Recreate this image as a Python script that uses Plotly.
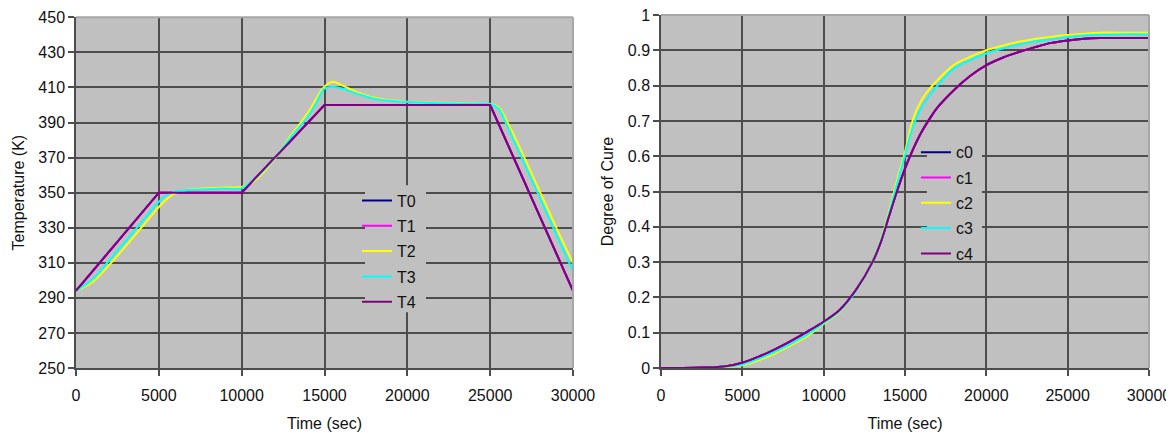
import plotly.graph_objects as go

# ---------------- data: temperature chart ----------------
t_wall = [0, 5000, 10000, 15000, 25000, 30000]
T0 = [294, 350, 350, 400, 400, 294]
T1 = [294, 350, 350, 400, 400, 294]
T4 = [294, 350, 350, 400, 400, 294]

t_in = [0, 1000, 2000, 3000, 4000, 5000, 5500, 6000, 6500, 7000, 8000, 9000,
        10000, 10500, 11000, 12000, 13000, 14000, 14500, 15000, 15500, 16000,
        17000, 18000, 19000, 20000, 22000, 24000, 25000, 25500, 26000, 26500,
        27000, 28000, 29000, 30000]
T2 = [294, 299.1, 308.7, 319.5, 330.7, 341.8, 346.5, 349.8, 351.2, 352.0, 352.5, 353.0,
      353.2, 355.5, 358.5, 369.5, 383.0, 395.5, 403.5, 410.5, 413.2, 411.5,
      407.2, 404.1, 402.7, 401.9, 401.2, 400.7, 400.5, 398.8, 391.0, 381.3,
      371.3, 350.5, 329.8, 309.7]
T3 = [294, 300.6, 311.3, 322.4, 333.6, 344.8, 348.8, 350.6, 351.2, 351.6, 352.0, 352.3,
      352.5, 355.8, 359.5, 369.8, 382.0, 393.5, 401.0, 409.3, 410.3, 409.5,
      406.3, 403.6, 402.4, 401.7, 401.0, 400.6, 400.4, 398.0, 388.5, 378.3,
      368.0, 347.0, 326.0, 305.3]

# ---------------- data: degree of cure chart ----------------
t_c = [0, 1000, 2000, 3000, 4000, 5000, 6000, 7000, 8000, 9000, 10000, 11000,
       12000, 13000, 13500, 14000, 14500, 15000, 15500, 16000, 16500, 17000,
       18000, 19000, 20000, 21000, 22000, 23000, 24000, 25000, 26000, 27000,
       28000, 30000]
c4 = [0, 0, 0.0005, 0.002, 0.005, 0.015, 0.032, 0.053, 0.077, 0.103, 0.131, 0.165,
      0.222, 0.300, 0.355, 0.428, 0.500, 0.565, 0.620, 0.667, 0.705, 0.738,
      0.787, 0.827, 0.858, 0.879, 0.895, 0.909, 0.921, 0.928, 0.933, 0.935,
      0.935, 0.935]
c0 = list(c4)
c1 = list(c4)
c2 = [0, 0, 0, 0.001, 0.003, 0.008, 0.022, 0.041, 0.065, 0.090, 0.125, 0.160,
      0.220, 0.300, 0.360, 0.440, 0.530, 0.612, 0.705, 0.757, 0.790, 0.815,
      0.858, 0.881, 0.900, 0.913, 0.924, 0.932, 0.938, 0.943, 0.947, 0.950,
      0.950, 0.950]
c3 = [0, 0, 0, 0.001, 0.004, 0.010, 0.026, 0.046, 0.069, 0.095, 0.127, 0.162,
      0.220, 0.300, 0.358, 0.435, 0.520, 0.603, 0.685, 0.737, 0.772, 0.800,
      0.848, 0.872, 0.891, 0.905, 0.916, 0.925, 0.931, 0.938, 0.942, 0.944,
      0.945, 0.945]

colors = ["#000080", "#FF00FF", "#FFFF00", "#00FFFF", "#800080"]
FONT = "Liberation Sans, Arial, sans-serif"
PLOT_BG = "#c0c0c0"

fig = go.Figure()

temp_series = [("T0", t_wall, T0, "linear"), ("T1", t_wall, T1, "linear"),
               ("T2", t_in, T2, "spline"), ("T3", t_in, T3, "spline"),
               ("T4", t_wall, T4, "linear")]
for i, (name, tx, ty, shape) in enumerate(temp_series):
    fig.add_trace(go.Scatter(x=tx, y=ty, name=name, mode="lines",
                             line=dict(color=colors[i], width=2, shape=shape),
                             xaxis="x", yaxis="y", legend="legend",
                             legendgroup=name))

cure_series = [("c0", c0), ("c1", c1), ("c2", c2), ("c3", c3), ("c4", c4)]
for i, (name, cy) in enumerate(cure_series):
    fig.add_trace(go.Scatter(x=t_c, y=cy, name=name, mode="lines",
                             line=dict(color=colors[i], width=2, shape="spline"),
                             xaxis="x2", yaxis="y2", legend="legend2",
                             legendgroup=name))

axis_common = dict(showgrid=True, gridcolor="#4d4d4d", gridwidth=1.5,
                   showline=True, linecolor="#4d4d4d", linewidth=1.5,
                   ticks="outside", ticklen=6, tickcolor="#4d4d4d", tickwidth=1.5,
                   zeroline=False, automargin=False, ticklabeloverflow="allow",
                   tickfont=dict(family=FONT, size=16, color="#111"),
                   title_font=dict(family=FONT, size=16, color="#111"))
xcommon = dict(range=[0, 30000], dtick=5000, tick0=0, tickformat="d",
               ticklabelstandoff=6)

legend_common = dict(xanchor="left", yanchor="top", bgcolor="rgba(0,0,0,0)",
                     borderwidth=0, tracegroupgap=1.5, traceorder="grouped",
                     font=dict(family=FONT, size=16, color="#111"))

# the page body adds an 8px offset, so the figure is 8px smaller and margins shifted
fig.update_layout(
    width=1166, height=425,
    margin=dict(l=68, r=25, t=7, b=65),
    paper_bgcolor="white", plot_bgcolor=PLOT_BG,
    font=dict(family=FONT, size=16, color="#111"),
    xaxis=dict(domain=[0, 0.4632], anchor="y",
               title=dict(text="Time (sec)", standoff=15), **xcommon, **axis_common),
    yaxis=dict(domain=[0, 0.9935], range=[250, 450], dtick=20, tick0=250,
               anchor="x", title=dict(text="Temperature (K)", standoff=10), **axis_common),
    xaxis2=dict(domain=[0.5452, 1], anchor="y2",
                title=dict(text="Time (sec)", standoff=15), **xcommon, **axis_common),
    yaxis2=dict(domain=[0, 1], range=[0, 1], dtick=0.1, tick0=0,
                anchor="x2", title=dict(text="Degree of Cure", standoff=10), **axis_common),
    legend=dict(x=0.2619, y=0.5224, **legend_common),
    legend2=dict(x=0.7828, y=0.6592, **legend_common),
    showlegend=True,
)

# legend background boxes (hide gridlines; placed where no curve passes)
fig.add_shape(type="rect", xref="x domain", yref="y domain",
              x0=0.5815, x1=0.7042, y0=0.159, y1=0.5214,
              fillcolor=PLOT_BG, line=dict(width=0), layer="above")
fig.add_shape(type="rect", xref="x2 domain", yref="y2 domain",
              x0=0.545, x1=0.6578, y0=0.306, y1=0.654,
              fillcolor=PLOT_BG, line=dict(width=0), layer="above")

# light top / right plot-area border
for xr, yr in (("x domain", "y domain"), ("x2 domain", "y2 domain")):
    fig.add_shape(type="line", xref=xr, yref=yr, x0=0, x1=1, y0=1, y1=1,
                  line=dict(color="#a6a6a6", width=2), layer="above")
    fig.add_shape(type="line", xref=xr, yref=yr, x0=1, x1=1, y0=0, y1=1,
                  line=dict(color="#a6a6a6", width=2), layer="above")

fig.write_html("out.html")
